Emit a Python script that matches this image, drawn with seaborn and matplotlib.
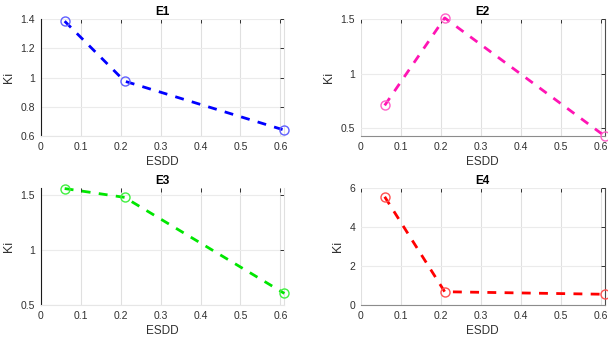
import matplotlib
matplotlib.use("Agg")
import matplotlib.pyplot as plt
import seaborn as sns
import pandas as pd

sns.set_theme(style="white")
plt.rcParams['font.family'] = ['Liberation Sans', 'DejaVu Sans']

esdd = [0.06, 0.21, 0.61]
ki_e1 = [1.385, 0.975, 0.64]
ki_e2 = [0.71, 1.51, 0.43]
ki_e3 = [1.555, 1.475, 0.605]
ki_e4 = [5.55, 0.68, 0.55]

titles = ["E1", "E2", "E3", "E4"]
series = [ki_e1, ki_e2, ki_e3, ki_e4]
colors = ["#0000ff", "#ff14b4", "#00e600", "#ff0000"]
marker_colors = ["#6060ff", "#ff60c8", "#40f040", "#ff5050"]
ylims = [(0.6, 1.4), (0.43, 1.5), (0.5, 1.56), (0, 6)]
yticks = [[0.6, 0.8, 1.0, 1.2, 1.4], [0.5, 1.0, 1.5], [0.5, 1.0, 1.5], [0, 2, 4, 6]]
xticks = [0, 0.1, 0.2, 0.3, 0.4, 0.5, 0.6]

def fmt(v):
    return f"{v:g}"

W, H = 608, 338
fig = plt.figure(figsize=(W / 100, H / 100), dpi=100)
boxes = [
    (40.7, 19, 284.4, 136),
    (360.7, 19, 604.7, 136),
    (40.7, 188, 284.4, 305),
    (360.7, 188, 604.7, 305),
]
tick_col = "#303030"
for i, (l, t, r, b) in enumerate(boxes):
    ax = fig.add_axes([l / W, 1 - b / H, (r - l) / W, (b - t) / H])
    df = pd.DataFrame({"ESDD": esdd, "Ki": series[i]})
    sns.lineplot(data=df, x="ESDD", y="Ki", ax=ax, color=colors[i],
                 linestyle=(0, (3.2, 3.0)), linewidth=2.0, marker="o",
                 markersize=6.5, markerfacecolor="none",
                 markeredgecolor=marker_colors[i], markeredgewidth=1.0,
                 clip_on=False, zorder=3)
    ax.set_xlim(0, 0.61)
    ax.set_ylim(*ylims[i])
    ax.set_xticks(xticks)
    ax.set_xticklabels([fmt(v) for v in xticks])
    ax.set_yticks(yticks[i])
    ax.set_yticklabels([fmt(v) for v in yticks[i]])
    ax.grid(True, axis="x", color="#e0e0e0", linewidth=0.8)
    ax.grid(True, axis="y", color="#ebebeb", linewidth=0.8)
    ax.set_axisbelow(True)
    ax.tick_params(direction="in", length=3, width=0.7, color=tick_col,
                   labelsize=7.5, labelcolor=tick_col, pad=4,
                   top=True, right=True)
    ax.set_xlabel("ESDD", fontsize=8.5, color=tick_col, labelpad=3)
    ax.set_ylabel("Ki", fontsize=9, color=tick_col, labelpad=4)
    ax.set_title(titles[i], fontsize=8.5, fontweight="bold", color="black", pad=3)
    for s in ax.spines.values():
        s.set_linewidth(0.8)
    if i % 2 == 0:
        ax.spines["left"].set_color("#1a1a1a")
        ax.spines["bottom"].set_color("#e6e6e6")
        ax.spines["right"].set_color("#e0e0e0")
        ax.spines["top"].set_visible(False)
    else:
        ax.spines["left"].set_visible(False)
        ax.spines["bottom"].set_color("#8c8c8c")
        ax.spines["right"].set_color("#4d4d4d")
        ax.spines["top"].set_visible(False)

fig.savefig("out.png", dpi=100, facecolor="white")
